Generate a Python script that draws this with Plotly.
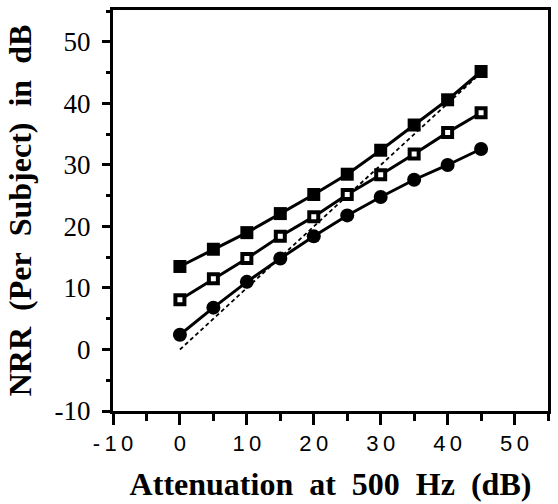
import plotly.graph_objects as go

attenuation = [0, 5, 10, 15, 20, 25, 30, 35, 40, 45]
filled_squares = [13.5, 16.3, 19.0, 22.1, 25.2, 28.5, 32.4, 36.5, 40.6, 45.2]
open_squares = [8.1, 11.5, 14.8, 18.4, 21.6, 25.2, 28.4, 31.8, 35.3, 38.5]
filled_circles = [2.4, 6.8, 11.0, 14.8, 18.4, 21.8, 24.8, 27.6, 30.0, 32.6]
identity_x = [0, 45]
identity_y = [0, 45]

x_tickvals = [-10, 0, 10, 20, 30, 40, 50]
x_ticktext = ["-\u20091\u20090", "0", "1\u20090", "2\u20090", "3\u20090", "4\u20090", "5\u20090"]
y_tickvals = [-10, 0, 10, 20, 30, 40, 50]
y_ticktext = ["-10", "0", "10", "20", "30", "40", "50"]

fig = go.Figure()
fig.add_trace(go.Scatter(x=identity_x, y=identity_y, mode="lines",
                         line=dict(color="black", width=1.8, dash="4px,3px"),
                         showlegend=False))
fig.add_trace(go.Scatter(x=attenuation, y=filled_circles, mode="lines+markers",
                         line=dict(color="black", width=3),
                         marker=dict(symbol="circle", size=14, color="black"),
                         showlegend=False))
fig.add_trace(go.Scatter(x=attenuation, y=open_squares, mode="lines+markers",
                         line=dict(color="black", width=3),
                         marker=dict(symbol="square", size=9, color="white",
                                     line=dict(color="black", width=4)),
                         showlegend=False))
fig.add_trace(go.Scatter(x=attenuation, y=filled_squares, mode="lines+markers",
                         line=dict(color="black", width=3),
                         marker=dict(symbol="square", size=13, color="black"),
                         showlegend=False))

fig.update_layout(
    width=558, height=504,
    margin=dict(l=113, r=10, t=7, b=93),
    paper_bgcolor="white", plot_bgcolor="white",
    xaxis=dict(range=[-10, 55], tickmode="array", tickvals=x_tickvals, ticktext=x_ticktext,
               showgrid=False, zeroline=False, showline=True, linecolor="black", linewidth=3,
               mirror=True, ticks="outside", ticklen=11, tickwidth=3, tickcolor="black",
               minor=dict(ticks="outside", ticklen=7, tickwidth=3, dtick=5, tick0=0, tickcolor="black", showgrid=False),
               tickfont=dict(family="Liberation Sans", size=22, color="black"),
               title=dict(text="<b>Attenuation&nbsp; at&nbsp; 500&nbsp; Hz&nbsp; (dB)</b>",
                          font=dict(family="Liberation Serif", size=32, color="black"), standoff=18)),
    yaxis=dict(range=[-10, 55.2], tickmode="array", tickvals=y_tickvals, ticktext=y_ticktext,
               showgrid=False, zeroline=False, showline=True, linecolor="black", linewidth=3,
               mirror=True, ticks="outside", ticklen=8, tickwidth=3, tickcolor="black",
               minor=dict(ticks="outside", ticklen=4, tickwidth=3, dtick=5, tick0=0, tickcolor="black", showgrid=False),
               tickfont=dict(family="Liberation Serif", size=27, color="black"),
               ticklabelstandoff=6,
               title=dict(text="<b>NRR&nbsp; (Per&nbsp; Subject)&nbsp; in&nbsp; dB</b>",
                          font=dict(family="Liberation Serif", size=32, color="black"), standoff=14)),
)

fig.write_html("out.html")
